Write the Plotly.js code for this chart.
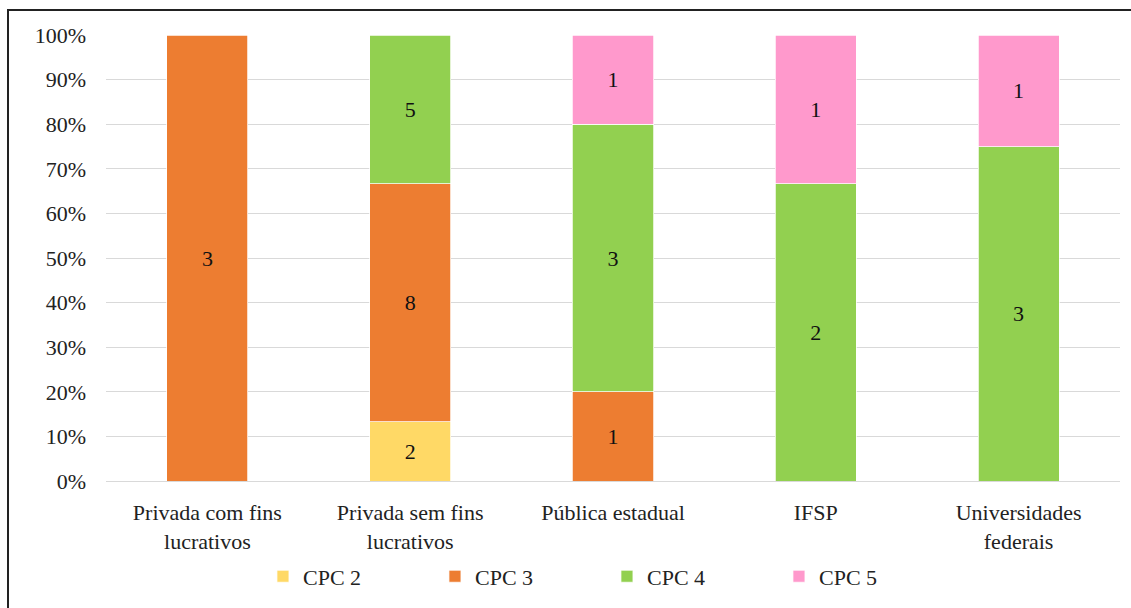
<!DOCTYPE html>
<html>
<head>
<meta charset="utf-8">
<script src="https://cdn.plot.ly/plotly-3.0.1.min.js"></script>
<style>
html,body{margin:0;padding:0;background:#fff;overflow:hidden;}
#wrap{position:relative;width:1131px;height:608px;}
#chart{position:absolute;left:0;top:0;width:1131px;height:608px;}
#frame{position:absolute;left:7px;top:9px;width:1140px;height:620px;border-left:2px solid #222;border-top:2px solid #222;pointer-events:none;}
</style>
</head>
<body>
<div id="wrap"><div id="chart"></div><div id="frame"></div></div>
<script>
const categories = ["Privada com fins lucrativos", "Privada sem fins lucrativos", "Pública estadual", "IFSP", "Universidades federais"];
const tickLabels = ["Privada com fins<br>lucrativos", "Privada sem fins<br>lucrativos", "Pública estadual", "IFSP", "Universidades<br>federais"];
const cpc2 = [0, 2, 0, 0, 0];
const cpc3 = [3, 8, 1, 0, 0];
const cpc4 = [0, 5, 3, 2, 3];
const cpc5 = [0, 0, 1, 1, 1];
const yTicks = [0, 10, 20, 30, 40, 50, 60, 70, 80, 90, 100];
const yTickLabels = ["0%", "10%", "20%", "30%", "40%", "50%", "60%", "70%", "80%", "90%", "100%"];

const series = [
  {name: "CPC 2", values: cpc2, color: "#FFD966"},
  {name: "CPC 3", values: cpc3, color: "#ED7D31"},
  {name: "CPC 4", values: cpc4, color: "#92D050"},
  {name: "CPC 5", values: cpc5, color: "#FF99CC"}
];

const font = "Liberation Serif";

const traces = series.map(s => ({
  type: "bar",
  name: s.name,
  x: categories,
  y: s.values.map(v => v === 0 ? null : v),
  text: s.values.map(v => v === 0 ? "" : String(v)),
  textposition: "inside",
  insidetextanchor: "middle",
  textangle: 0,
  textfont: {family: font, size: 22, color: "#111"},
  marker: {color: s.color, line: {color: "#ffffff", width: 0.75}},
  hoverinfo: "none"
}));

const layout = {
  width: 1131, height: 608,
  margin: {l: 106, r: 11, t: 35, b: 121},
  paper_bgcolor: "#fff", plot_bgcolor: "#fff",
  barmode: "stack",
  barnorm: "percent",
  bargap: 0.6,
  font: {family: font, size: 22, color: "#222"},
  xaxis: {
    type: "category",
    tickvals: categories,
    ticktext: tickLabels,
    tickfont: {family: font, size: 22, color: "#222"},
    showgrid: false,
    showline: true, linecolor: "#d9d9d9", linewidth: 1,
    ticks: "",
    ticklabelstandoff: 12,
    automargin: false,
    fixedrange: true
  },
  yaxis: {
    range: [0, 100],
    tickmode: "array",
    tickvals: yTicks,
    ticktext: yTickLabels,
    tickfont: {family: font, size: 22, color: "#222"},
    gridcolor: "#d9d9d9", gridwidth: 1,
    zeroline: false,
    ticks: "",
    ticklabelstandoff: 19,
    automargin: false,
    fixedrange: true
  },
  legend: {
    orientation: "h",
    x: 0.1548, xanchor: "left",
    y: -0.214, yanchor: "middle",
    entrywidth: 127, entrywidthmode: "pixels",
    font: {family: font, size: 22, color: "#222"},
    traceorder: "normal"
  },
  showlegend: true
};

Plotly.newPlot("chart", traces, layout, {displayModeBar: false, staticPlot: true});
</script>
</body>
</html>
